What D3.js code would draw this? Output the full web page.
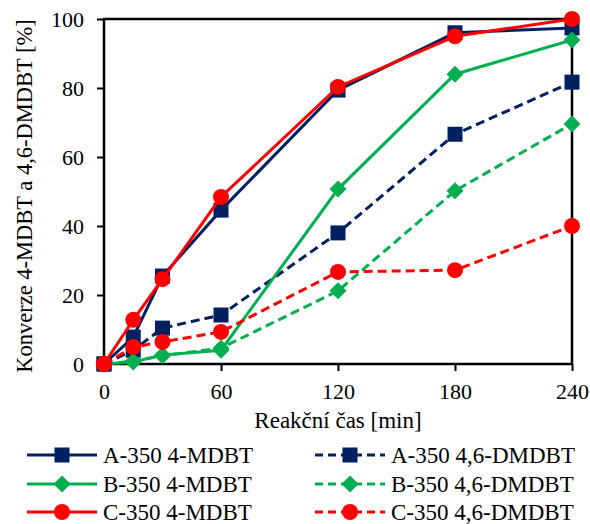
<!DOCTYPE html>
<html>
<head>
<meta charset="utf-8">
<script src="https://cdn.jsdelivr.net/npm/d3@7"></script>
<style>
  body { margin: 0; background: #fff; }
  text { font-family: "Liberation Serif", "Times New Roman", serif; fill: #000; }
</style>
</head>
<body>
<div id="chart"></div>
<script>
// reaction time [min]
const times = [0, 15, 30, 60, 120, 180, 240];
const xTicks = [0, 60, 120, 180, 240];
const yTicks = [0, 20, 40, 60, 80, 100];

// conversion [%]
const a4m = [0, 7.8, 25.5, 44.6, 79.4, 96, 97.4];
const a46 = [0, 4, 10.4, 14.2, 38, 66.6, 81.7];
const b4m = [0, 0.6, 2.6, 4, 50.7, 84, 93.9];
const b46 = [0, 0.8, 2.4, 4.6, 21.2, 50.2, 69.6];
const c4m = [0, 12.8, 24.6, 48.4, 80.3, 95, 100];
const c46 = [0, 4.9, 6.4, 9.3, 26.7, 27.2, 40];

const names = ["A-350 4-MDBT", "A-350 4,6-DMDBT", "B-350 4-MDBT",
  "B-350 4,6-DMDBT", "C-350 4-MDBT", "C-350 4,6-DMDBT"];

const navy = "#002060", green = "#00B050", red = "#FF0000";

const series = [
  { name: names[0], values: a4m, color: navy, dash: null, shape: "square" },
  { name: names[1], values: a46, color: navy, dash: "9,5", shape: "square" },
  { name: names[2], values: b4m, color: green, dash: null, shape: "diamond" },
  { name: names[3], values: b46, color: green, dash: "9,5", shape: "diamond" },
  { name: names[4], values: c4m, color: red, dash: null, shape: "circle" },
  { name: names[5], values: c46, color: red, dash: "9,5", shape: "circle" }
];

const W = 590, H = 524;
const m = { left: 104, right: 18, top: 19, bottom: 160 };

const svg = d3.select("#chart").append("svg")
  .attr("width", W).attr("height", H);

const x = d3.scaleLinear().domain([0, 240]).range([m.left, W - m.right]);
const y = d3.scaleLinear().domain([0, 100]).range([H - m.bottom, m.top]);

// frame
svg.append("rect")
  .attr("x", x(0)).attr("y", y(100))
  .attr("width", x(240) - x(0)).attr("height", y(0) - y(100))
  .attr("fill", "none").attr("stroke", "#000").attr("stroke-width", 2.5);

const xAxis = svg.append("g")
  .attr("transform", `translate(0,${y(0)})`)
  .call(d3.axisBottom(x).tickValues(xTicks).tickSize(7).tickPadding(12));
const yAxis = svg.append("g")
  .attr("transform", `translate(${x(0)},0)`)
  .call(d3.axisLeft(y).tickValues(yTicks).tickSize(7).tickPadding(13));

[xAxis, yAxis].forEach(g => {
  g.select(".domain").remove();
  g.selectAll(".tick line").attr("stroke", "#000").attr("stroke-width", 2);
  g.selectAll(".tick text").style("font-size", "22px")
    .style("font-family", "Liberation Serif");
});

svg.append("text")
  .attr("x", (x(0) + x(240)) / 2).attr("y", 428)
  .attr("text-anchor", "middle").style("font-size", "23px")
  .text("Reakční čas [min]");

svg.append("text")
  .attr("transform", `translate(32,196) rotate(-90)`)
  .attr("text-anchor", "middle").style("font-size", "22.5px")
  .text("Konverze 4-MDBT a 4,6-DMDBT [%]");

function marker(g, shape, color) {
  if (shape === "square") {
    g.append("rect").attr("x", -7.5).attr("y", -7.5)
      .attr("width", 15).attr("height", 15).attr("fill", color);
  } else if (shape === "diamond") {
    g.append("path").attr("d", "M0,-8.5L8.5,0L0,8.5L-8.5,0Z").attr("fill", color);
  } else {
    g.append("circle").attr("r", 8).attr("fill", color);
  }
}

const line = d3.line().x((d, i) => x(times[i])).y(d => y(d));

series.forEach(s => {
  const g = svg.append("g");
  g.append("path")
    .attr("d", line(s.values))
    .attr("fill", "none").attr("stroke", s.color).attr("stroke-width", 3)
    .attr("stroke-dasharray", s.dash);
  s.values.forEach((v, i) => {
    const mg = g.append("g").attr("transform", `translate(${x(times[i])},${y(v)})`);
    marker(mg, s.shape, s.color);
  });
});

// legend
const rowY = [455, 484, 512];
const colX = [27, 315];
series.forEach((s, i) => {
  const col = i % 2, row = Math.floor(i / 2);
  const g = svg.append("g").attr("transform", `translate(${colX[col]},${rowY[row]})`);
  g.append("line").attr("x1", 0).attr("x2", 70).attr("y1", 0).attr("y2", 0)
    .attr("stroke", s.color).attr("stroke-width", 3)
    .attr("stroke-dasharray", s.dash ? "8,5" : null);
  marker(g.append("g").attr("transform", "translate(35,0)"), s.shape, s.color);
  g.append("text").attr("x", 76).attr("y", 0).attr("dy", "0.33em")
    .style("font-size", "23px").text(s.name);
});
</script>
</body>
</html>
